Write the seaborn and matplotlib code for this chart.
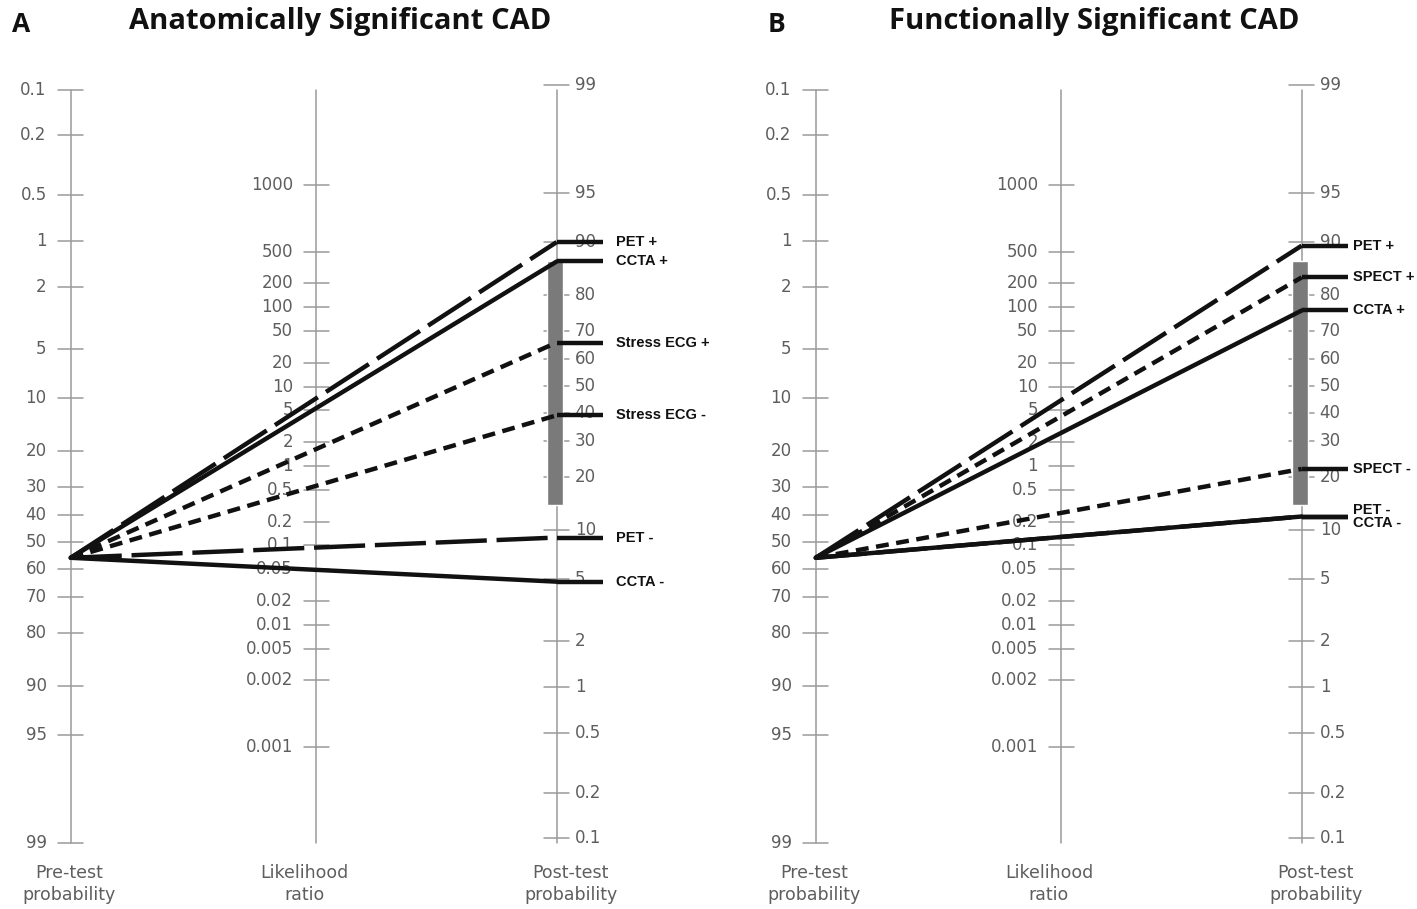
import numpy as np
import pandas as pd
import matplotlib
matplotlib.use("Agg")
import matplotlib.pyplot as plt
import seaborn as sns

# ---------------- data ----------------
pretest_prob = 56.0  # %, common pre-test probability
pre_ticks = [0.1, 0.2, 0.5, 1, 2, 5, 10, 20, 30, 40, 50, 60, 70, 80, 90, 95, 99]
post_ticks = [99, 95, 90, 80, 70, 60, 50, 40, 30, 20, 10, 5, 2, 1, 0.5, 0.2, 0.1]
lr_ticks = [1000, 500, 200, 100, 50, 20, 10, 5, 2, 1, 0.5, 0.2, 0.1, 0.05,
            0.02, 0.01, 0.005, 0.002, 0.001]
intermediate_range = [14, 87]  # grey band on post-test axis (%)

panel_letters = ["A", "B"]
panel_titles = ["Anatomically Significant CAD", "Functionally Significant CAD"]
axis_names = ["Pre-test\nprobability", "Likelihood\nratio", "Post-test\nprobability"]

tests_A = ["PET +", "CCTA +", "Stress ECG +", "Stress ECG -", "PET -", "CCTA -"]
post_A = [90, 87, 66, 39, 9, 4.8]
styles_A = ["long", "solid", "short", "short", "long", "solid"]

tests_B = ["PET +", "SPECT +", "CCTA +", "SPECT -", "PET -", "CCTA -"]
post_B = [89.5, 84, 76, 22, 12, 12]
styles_B = ["long", "short", "solid", "short", "long", "solid"]

panels = [(tests_A, post_A, styles_A), (tests_B, post_B, styles_B)]

# ---------------- nomogram scales ----------------
S = 65.5
PRE0, POST0 = 542.0, 386.0
LR0, LRS = 466.0, 34.5


def logit(p):
    p = np.asarray(p, dtype=float) / 100.0
    return np.log(p / (1 - p))


def y_pre(p):
    return PRE0 + S * logit(p)


def y_post(p):
    return POST0 - S * logit(p)


def y_lr(v):
    eff = np.interp(np.log10(v), [-3, np.log10(0.002), np.log10(500), 3],
                    [-8.15, np.log(0.002), np.log(500), 8.15])
    return LR0 - LRS * eff


def fmt(v):
    return "%g" % v


# ---------------- layout ----------------
PANEL_DX = [0, 745]
X_PRE, X_LR, X_POST = 70.7, 316.0, 556.7
LETTER_X = [12, 768]
TITLE_X = [340, 1094]
NAME_DX = [-2, -12, 14]
LABEL_GAP = [59, 51]
SEG_LEN = 46
Y_TOP, Y_BOT = y_pre(0.1), y_pre(99)

sns.set_theme(style="white")
plt.rcParams["font.family"] = ["DejaVu Sans"]

fig = plt.figure(figsize=(14.17, 9.09), dpi=100)
ax = fig.add_axes([0, 0, 1, 1])

axis_col = "#9a9a9a"
lab_col = "#5e5e5e"
tick_half = 12.5
tick_fs = 12

dash_map = {"solid": "-", "long": (0, (11.5, 2.2)), "short": (0, (2.9, 1.7))}

for k, (tests, posts, styles) in enumerate(panels):
    dx = PANEL_DX[k]
    xp, xl, xq = X_PRE + dx, X_LR + dx, X_POST + dx

    # titles
    ax.text(LETTER_X[k], 24, panel_letters[k], fontsize=19, fontweight="bold",
            family=["Open Sans", "DejaVu Sans"], ha="left", va="center", color="#111111")
    ax.text(TITLE_X[k], 22, panel_titles[k], fontsize=21, fontweight="bold",
            family=["Open Sans", "DejaVu Sans"], ha="center", va="center", color="#111111")

    # vertical axes
    for x in (xp, xl, xq):
        ax.plot([x, x], [Y_TOP, Y_BOT], color=axis_col, lw=1.1, zorder=1)

    # pre-test ticks
    for v in pre_ticks:
        y = y_pre(v)
        ax.plot([xp - tick_half, xp + tick_half], [y, y], color=axis_col, lw=1.1, zorder=1)
        ax.text(xp - 24, y, fmt(v), ha="right", va="center", fontsize=tick_fs, color=lab_col, zorder=1)
    # LR ticks
    for v in lr_ticks:
        y = y_lr(v)
        ax.plot([xl - tick_half, xl + tick_half], [y, y], color=axis_col, lw=1.1, zorder=1)
        ax.text(xl - 23, y, fmt(v), ha="right", va="center", fontsize=tick_fs, color=lab_col, zorder=1)
    # post-test ticks
    for v in post_ticks:
        y = y_post(v)
        ax.plot([xq - tick_half, xq + tick_half], [y, y], color=axis_col, lw=1.1, zorder=1)
        ax.text(xq + 18, y, fmt(v), ha="left", va="center", fontsize=tick_fs, color=lab_col, zorder=1)

    # axis names
    for x, name, ndx in zip((xp, xl, xq), axis_names, NAME_DX):
        for j, line in enumerate(name.split("\n")):
            ax.text(x + ndx, 873 + 22 * j, line, ha="center", va="center",
                    fontsize=12.5, color=lab_col)

    # intermediate-probability band
    lo, hi = y_post(intermediate_range[0]), y_post(intermediate_range[1])
    ax.bar([xq - 1.5], [lo - hi], bottom=[hi], width=16, color="#7a7a7a", zorder=2)

    # test lines
    y0 = float(y_pre(pretest_prob))
    for name, q, st in zip(tests, posts, styles):
        y1 = float(y_post(q))
        d1 = pd.DataFrame({"x": [xp, xq], "y": [y0, y1]})
        sns.lineplot(data=d1, x="x", y="y", ax=ax, color="#111111", lw=3.2,
                     linestyle=dash_map[st], sort=False, estimator=None,
                     dash_capstyle="butt", zorder=4)
        d2 = pd.DataFrame({"x": [xq, xq + SEG_LEN], "y": [y1, y1]})
        sns.lineplot(data=d2, x="x", y="y", ax=ax, color="#111111", lw=3.2,
                     sort=False, estimator=None, solid_capstyle="butt", zorder=4)

    # labels (tests with identical post-test values share a stacked label)
    groups = {}
    for name, q in zip(tests, posts):
        groups.setdefault(q, []).append(name)
    for q, names in groups.items():
        ax.text(xq + LABEL_GAP[k], float(y_post(q)), "\n".join(names), ha="left", va="center",
                fontsize=10.5, fontweight="bold", color="#111111", linespacing=0.95,
                family=["Liberation Sans", "DejaVu Sans"], zorder=5)

ax.set_xlim(0, 1417)
ax.set_ylim(909, 0)
ax.axis("off")
fig.savefig("out.png", dpi=100)
